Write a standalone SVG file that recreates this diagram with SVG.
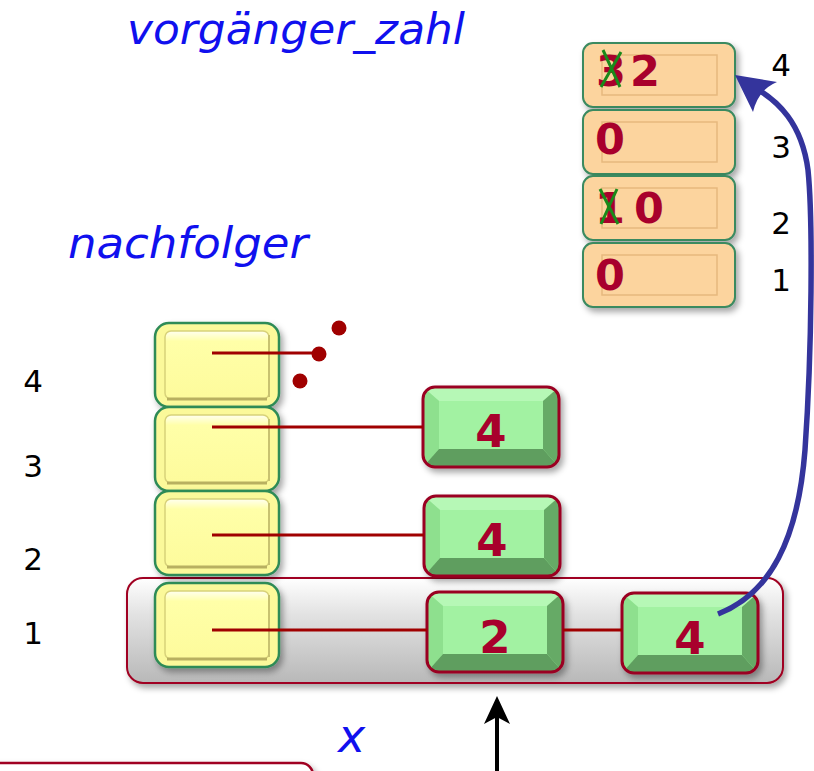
<svg xmlns="http://www.w3.org/2000/svg" width="814" height="771" viewBox="0 0 814 771">
<defs>
<style>
.lbl{font-family:"DejaVu Sans","Liberation Sans",sans-serif;font-size:31px;fill:#000;text-anchor:middle}
.ttl{font-family:"DejaVu Sans","Liberation Sans",sans-serif;font-style:italic;fill:#1010ee}
.dg{font-family:"DejaVu Sans","Liberation Sans",sans-serif;font-weight:bold;font-size:43px;fill:#a8002c}
.gd{font-family:"DejaVu Sans","Liberation Sans",sans-serif;font-weight:bold;font-size:45px;fill:#a8002c;text-anchor:middle}
.ln{stroke:#a00000;stroke-width:3;fill:none}
.xm{stroke:#1a8a1a;stroke-width:3;fill:none}
.gb{fill:none;stroke:#9a0020;stroke-width:3}
.yb{fill:#fbf99a;stroke:#2e8b57;stroke-width:2.5}
.ob{fill:#fcd49e;stroke:#3a8a60;stroke-width:2}
</style>
<filter id="sh" x="-20%" y="-20%" width="150%" height="160%">
<feDropShadow dx="3" dy="4" stdDeviation="3" flood-color="#000" flood-opacity="0.35"/>
</filter>
<linearGradient id="gray" x1="0" y1="0" x2="0" y2="1">
<stop offset="0" stop-color="#ffffff"/>
<stop offset="0.35" stop-color="#e2e2e2"/>
<stop offset="1" stop-color="#b8b8b8"/>
</linearGradient>
<linearGradient id="yel" x1="0" y1="0" x2="0" y2="1">
<stop offset="0" stop-color="#fffff0"/>
<stop offset="0.15" stop-color="#ffffa8"/>
<stop offset="1" stop-color="#fdfb9c"/>
</linearGradient>
<linearGradient id="org" x1="0" y1="0" x2="0" y2="1">
<stop offset="0" stop-color="#fff0dc"/>
<stop offset="0.25" stop-color="#fdd6a2"/>
<stop offset="1" stop-color="#f8cc90"/>
</linearGradient>
<clipPath id="gclip"><rect x="0" y="0" width="136" height="80" rx="12"/></clipPath>
<g id="green">
<g clip-path="url(#gclip)">
<rect x="0" y="0" width="136" height="80" fill="#a2f2a2"/>
<polygon points="0,0 136,0 120,14 16,14" fill="#b6f8b6"/>
<polygon points="0,0 16,14 16,62 0,80" fill="#8ee08e"/>
<polygon points="136,0 136,80 120,62 120,14" fill="#66aa66"/>
<polygon points="0,80 136,80 120,62 16,62" fill="#5e9e5e"/>
</g>
<rect class="gb" x="0" y="0" width="136" height="80" rx="12"/>
</g>
<g id="yellow">
<rect class="yb" x="0" y="0" width="124" height="84" rx="14"/>
<rect x="10" y="8" width="104" height="68" rx="6" fill="url(#yel)" stroke="#d8d27a" stroke-width="1.5"/>
<path d="M12,76 L112,76" stroke="#b8b060" stroke-width="3"/>
<path d="M114,12 L114,74" stroke="#c8c270" stroke-width="2"/>
</g>
<g id="orange">
<rect class="ob" x="0" y="0" width="152" height="64" rx="10" fill="url(#org)"/>
<rect x="19" y="12" width="115" height="40" fill="none" stroke="#e6b87e" stroke-width="1.5"/>
</g>
</defs>
<rect width="814" height="771" fill="#ffffff"/>

<text class="ttl" x="127" y="44" font-size="43" textLength="338" lengthAdjust="spacingAndGlyphs">vorgänger_zahl</text>
<text class="ttl" x="68" y="258" font-size="43" textLength="240" lengthAdjust="spacingAndGlyphs">nachfolger</text>
<text class="ttl" x="338" y="752" font-size="46">x</text>

<g id="bottom-box"><rect x="-20" y="763" width="333" height="60" rx="12" fill="#ffffff" stroke="#a00020" stroke-width="2.5" filter="url(#sh)"/></g>

<g id="list-x"><rect x="127" y="578" width="656" height="105" rx="16" fill="url(#gray)" stroke="#a00020" stroke-width="2" filter="url(#sh)"/></g>

<g id="vz4"><use href="#orange" x="583" y="43" filter="url(#sh)"/></g>
<g id="vz3"><use href="#orange" x="583" y="110" filter="url(#sh)"/></g>
<g id="vz2"><use href="#orange" x="583" y="176" filter="url(#sh)"/></g>
<g id="vz1"><use href="#orange" x="583" y="243" filter="url(#sh)"/></g>
<text class="dg" x="596" y="86">3</text>
<text class="dg" x="630" y="86">2</text>
<text class="dg" x="595" y="154">0</text>
<text class="dg" x="595" y="223">1</text>
<text class="dg" x="634" y="223">0</text>
<text class="dg" x="595" y="290">0</text>
<path class="xm" d="M603,50 L620,87 M621,52 L601,87"/>
<path class="xm" d="M600,189 L618,224 M617,189 L601,224"/>

<text class="lbl" x="781" y="76">4</text>
<text class="lbl" x="781" y="158">3</text>
<text class="lbl" x="781" y="234">2</text>
<text class="lbl" x="781" y="291">1</text>
<text class="lbl" x="33" y="392">4</text>
<text class="lbl" x="33" y="477">3</text>
<text class="lbl" x="33" y="570">2</text>
<text class="lbl" x="33" y="644">1</text>

<g id="nf4"><use href="#yellow" x="155" y="323" filter="url(#sh)"/></g>
<g id="nf3"><use href="#yellow" x="155" y="407" filter="url(#sh)"/></g>
<g id="nf2"><use href="#yellow" x="155" y="491" filter="url(#sh)"/></g>
<g id="nf1"><use href="#yellow" x="155" y="583" filter="url(#sh)"/></g>

<g id="n3"><use href="#green" x="423" y="387" filter="url(#sh)"/><text class="gd" x="491" y="447">4</text></g>
<g id="n2"><use href="#green" x="424" y="496" filter="url(#sh)"/><text class="gd" x="492" y="556">4</text></g>
<g id="n1a"><use href="#green" x="427" y="592" filter="url(#sh)"/><text class="gd" x="495" y="653">2</text></g>
<g id="n1b"><use href="#green" x="622" y="593" filter="url(#sh)"/><text class="gd" x="690" y="654">4</text></g>

<g id="connectors">
<path class="ln" d="M212,353 L318,353"/>
<circle cx="339" cy="328" r="7.5" fill="#a00000"/>
<circle cx="319" cy="354" r="7.5" fill="#a00000"/>
<circle cx="300" cy="381" r="7.5" fill="#a00000"/>
<path class="ln" d="M212,427 L423,427"/>
<path class="ln" d="M212,535 L424,535"/>
<path class="ln" d="M212,630 L427,630"/>
<path class="ln" d="M563,630 L622,630"/>
<path d="M718,614 C770,594 798,540 805,450 C812,350 813,220 808,170 C802,125 780,100 748,84" fill="none" stroke="#34349c" stroke-width="5.5"/>
<path d="M735,75 L777,82 Q758,90 753,112 Z" fill="#34349c"/>
<path d="M497,771 L497,712" stroke="#000" stroke-width="4"/>
<path d="M497,696 L510,724 L497,717 L484,724 Z" fill="#000"/>
</g>
</svg>
